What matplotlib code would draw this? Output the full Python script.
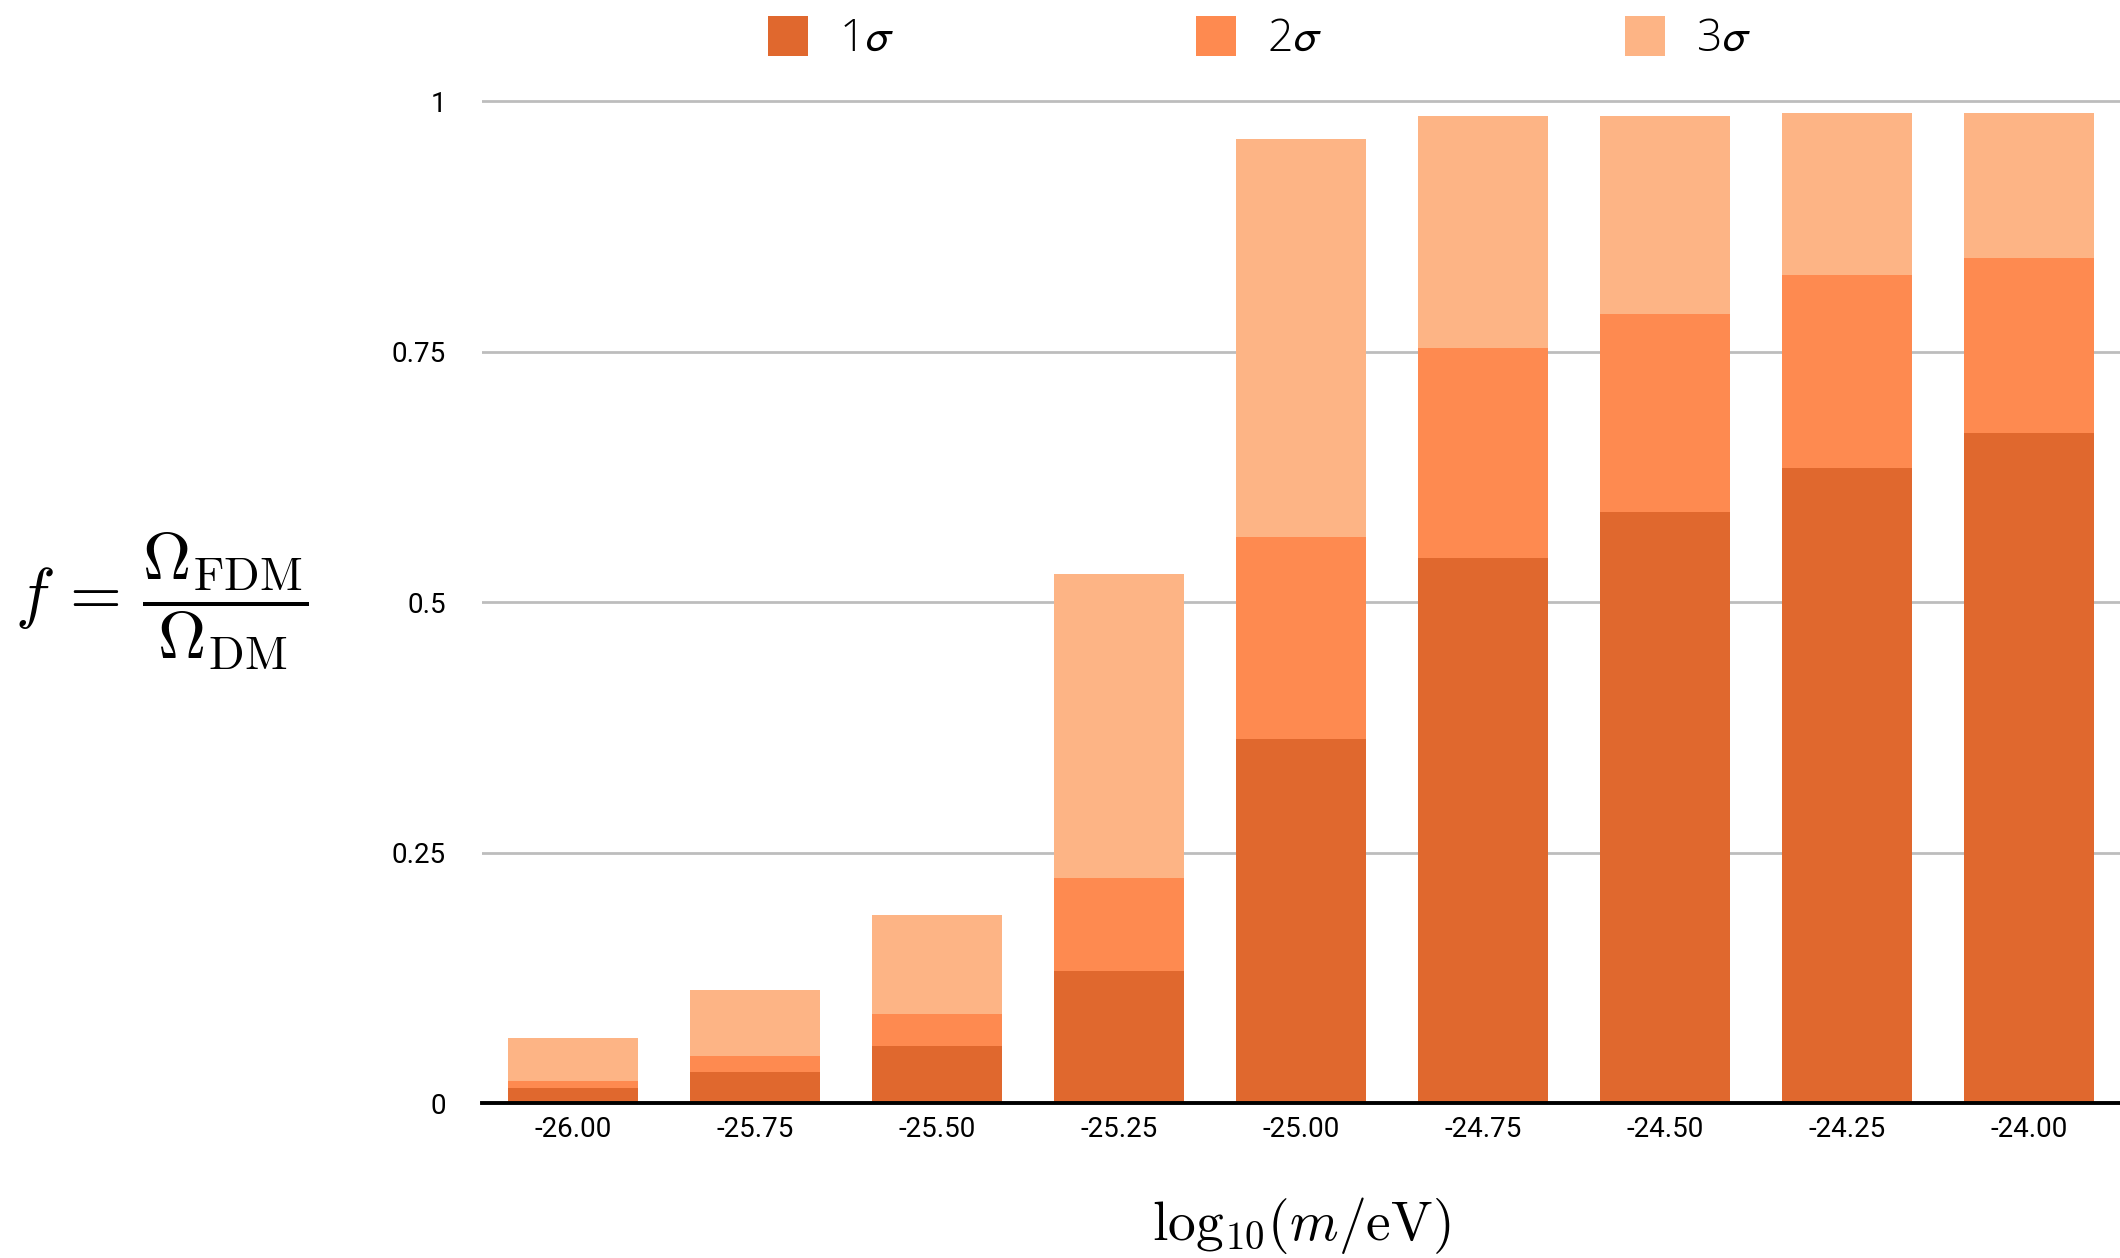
import matplotlib
matplotlib.use("Agg")
import matplotlib.pyplot as plt
from matplotlib.font_manager import FontProperties
import numpy as np

# Datos
masas = ["-26.00", "-25.75", "-25.50", "-25.25", "-25.00",
         "-24.75", "-24.50", "-24.25", "-24.00"]
f_1sigma = [0.015, 0.031, 0.057, 0.132, 0.363, 0.544, 0.590, 0.634, 0.669]
f_2sigma = [0.022, 0.047, 0.089, 0.225, 0.565, 0.754, 0.787, 0.826, 0.843]
f_3sigma = [0.065, 0.113, 0.188, 0.528, 0.962, 0.985, 0.985, 0.988, 0.988]
yticks = [0, 0.25, 0.5, 0.75, 1]
ytick_labels = ["0", "0.25", "0.5", "0.75", "1"]

colores = {"1": "#E0682E", "2": "#FE8A50", "3": "#FDB485"}

plt.rcParams["mathtext.fontset"] = "cm"

fig = plt.figure(figsize=(21.2, 12.58), dpi=100)
ax = fig.add_axes([0.2274, 0.1232, 0.7726, 0.8124])

x = np.arange(len(masas))
w = 0.715
# barras superpuestas, cada una desde 0
b3 = ax.bar(x, f_3sigma, w, color=colores["3"], zorder=2, label=r"3$\sigma$")
b2 = ax.bar(x, f_2sigma, w, color=colores["2"], zorder=3, label=r"2$\sigma$")
b1 = ax.bar(x, f_1sigma, w, color=colores["1"], zorder=4, label=r"1$\sigma$")

ax.set_xlim(-0.5, len(masas) - 0.5)
ax.set_ylim(0, 1.02)
ax.set_yticks(yticks)
ax.set_yticklabels(ytick_labels)
ax.set_xticks(x)
ax.set_xticklabels(masas)
ax.grid(axis="y", color="#BDBDBD", linewidth=2, zorder=0)
ax.set_axisbelow(True)

for s in ["top", "right", "left"]:
    ax.spines[s].set_visible(False)
ax.spines["bottom"].set_color("black")
ax.spines["bottom"].set_linewidth(2.8)
ax.spines["bottom"].set_zorder(5)

ax.tick_params(axis="both", length=0, labelsize=20)
ax.tick_params(axis="y", pad=26)
ax.tick_params(axis="x", pad=9)
for t in ax.get_xticklabels() + ax.get_yticklabels():
    t.set_fontfamily("Roboto")

ax.set_xlabel(r"$\mathrm{log}_{10}(m/{\rm eV})$", fontsize=40, labelpad=38)
fig.text(0.0765, 0.522, r"$f\,=\,\dfrac{\Omega_{\rm FDM}}{\Omega_{\rm DM}}$",
         fontsize=48, ha="center", va="center")

leyenda = fig.legend(handles=[b1, b2, b3], loc="center", ncol=3,
                     bbox_to_anchor=(0.594, 0.969), frameon=False,
                     prop=FontProperties(family="Open Sans", weight="light",
                                         size=32,
                                         math_fontfamily="stixsans"),
                     handlelength=0.9, handleheight=1.0, handletextpad=0.7,
                     columnspacing=6.8)

fig.savefig("out.png", dpi=100)
